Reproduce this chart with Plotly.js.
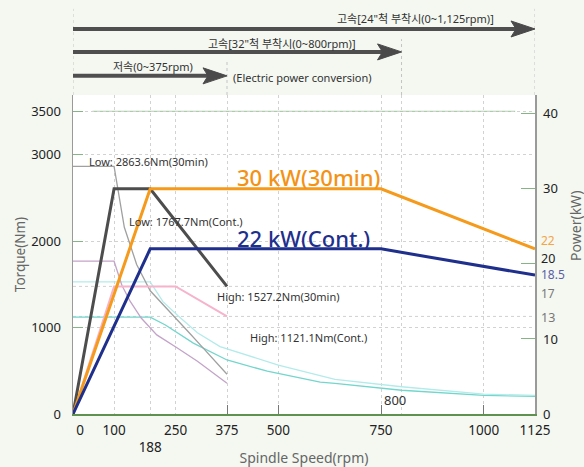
<!DOCTYPE html>
<html>
<head>
<meta charset="utf-8">
<script src="https://cdn.plot.ly/plotly-3.0.1.min.js"></script>
<style>html,body{margin:0;padding:0;background:#f4f8f1;}</style>
</head>
<body>
<div id="chart" style="width:584px;height:467px;"></div>
<script>
// ---- data ----
// Power curves (kW) vs spindle speed (rpm)
const rpmPow30 = [0, 188, 750, 1125];
const pow30 = [0, 30, 30, 22];
const rpmPowCont = [0, 188, 750, 1125];
const powCont = [0, 22, 22, 18.5];
const rpmLowPow30 = [0, 100, 188, 375];
const lowPow30 = [0, 30, 30, 17];
const rpmLowPowCont = [0, 100, 250, 375];
const lowPowCont = [0, 17, 17, 13];
// Torque curves (Nm)
const rpmLowTq30 = [0, 100, 125, 155, 188, 235, 279, 310, 375];
const lowTq30 = [2863.6, 2863.6, 2160, 1730, 1425, 1190, 960, 800, 460];
const rpmLowTqCont = [0, 100, 119, 139, 166, 204, 255, 303, 375];
const lowTqCont = [1767.7, 1767.7, 1490, 1305, 1110, 915, 760, 610, 355];
const rpmHighTq30 = [0, 188, 219, 255, 303, 358, 500, 638, 800, 1000, 1125];
const highTq30 = [1527.2, 1527.2, 1300, 1140, 940, 780, 565, 400, 315, 230, 215];
const rpmHighTqCont = [0, 188, 225, 262, 293, 375, 473, 602, 638, 800, 1000, 1125];
const highTqCont = [1121.1, 1121.1, 1030, 915, 820, 625, 495, 368, 355, 275, 216, 204];
// Axis ticks
const xTickVals = [0, 100, 188, 250, 375, 500, 750, 800, 1000, 1125];
const xTickText = ['\u00a0\u00a0\u00a0\u00a00', '100', '<br>188', '250', '375', '500', '750', '', '1000', '1125'];
const xMajorTicks = [375, 500, 750, 1000];
const yTorqueTicks = [0, 1000, 2000, 3000, 3500];
const yPowerTicks = [0, 10, 20, 30, 40];
const yPowerTickText = ['0', '10', '', '30', '40'];
// Speed ranges (top arrows)
const rangeEnds = [1125, 800, 375];
const rangeLabels = ['고속[24"척 부착시(0~1,125rpm)]', '고속[32"척 부착시(0~800rpm)]', '저속(0~375rpm)'];
// Curve labels
const torqueLabels = ['Low: 2863.6Nm(30min)', 'Low: 1767.7Nm(Cont.)', 'High: 1527.2Nm(30min)', 'High: 1121.1Nm(Cont.)'];
const powerLabels = ['30 kW(30min)', '22 kW(Cont.)'];
const powerSideLabels = ['22', '20', '18.5', '17', '13'];

const FONT = 'Noto Sans, Noto Sans CJK KR, sans-serif';
const X_MAX = 1125;

const traces = [
  {x: rpmHighTqCont, y: highTqCont, mode: 'lines', line: {color: '#72d6cc', width: 1.3}, xaxis: 'x', yaxis: 'y'},
  {x: rpmHighTq30, y: highTq30, mode: 'lines', line: {color: '#b3ebea', width: 1.3}, xaxis: 'x', yaxis: 'y'},
  {x: rpmLowTqCont, y: lowTqCont, mode: 'lines', line: {color: '#c3a3c8', width: 1.3}, xaxis: 'x', yaxis: 'y'},
  {x: rpmLowTq30, y: lowTq30, mode: 'lines', line: {color: '#a0a0a0', width: 1.3}, xaxis: 'x', yaxis: 'y'},
  {x: rpmLowPowCont, y: lowPowCont, mode: 'lines', line: {color: '#f6b3cb', width: 2}, xaxis: 'x', yaxis: 'y2'},
  {x: rpmLowPow30, y: lowPow30, mode: 'lines', line: {color: '#4d4d4d', width: 3}, xaxis: 'x', yaxis: 'y2'},
  {x: rpmPow30, y: pow30, mode: 'lines', line: {color: '#f59a1b', width: 3}, xaxis: 'x', yaxis: 'y2'},
  {x: rpmPowCont, y: powCont, mode: 'lines', line: {color: '#1f2f8c', width: 3}, xaxis: 'x', yaxis: 'y2'},
  {x: [], y: [], xaxis: 'x2', yaxis: 'y', hoverinfo: 'skip'}
];

const shapes = [];
const annotations = [];

// green line at top level (3500 Nm / 40 kW)
shapes.push({type: 'line', xref: 'paper', yref: 'y', x0: 0.042, x1: 0.957, y0: 3500, y1: 3500,
  line: {color: '#a9cfa6', width: 1.3}, layer: 'below'});
// dotted power guide lines
[13, 17].forEach(v => shapes.push({type: 'line', xref: 'paper', yref: 'y2', x0: 0, x1: 1, y0: v, y1: v,
  line: {color: '#d0d0d0', width: 1, dash: 'dot'}, layer: 'below'}));

// top range arrows
const arrowY = [1.207, 1.135, 1.060];
const dotTop = [1.27, 1.175, 1.11];
shapes.push({type: 'line', xref: 'x', yref: 'paper', x0: 0, x1: 0, y0: 1.0, y1: 1.27,
  line: {color: '#c4c4c4', width: 1, dash: 'dot'}});
rangeEnds.forEach((end, i) => {
  shapes.push({type: 'line', xref: 'x', yref: 'paper', x0: end, x1: end, y0: 1.0, y1: dotTop[i],
    line: {color: '#c4c4c4', width: 1, dash: 'dot'}});
  shapes.push({type: 'line', xref: 'x', yref: 'paper', x0: 0, x1: end - 25, y0: arrowY[i], y1: arrowY[i],
    line: {color: '#4f4f4f', width: 4}});
  shapes.push({type: 'path', xref: 'x', yref: 'paper', xsizemode: 'pixel', ysizemode: 'pixel',
    xanchor: end, yanchor: arrowY[i], path: 'M-24,-8 L0,0 L-24,8 L-19,0 Z',
    fillcolor: '#4a4a4a', line: {color: '#4a4a4a', width: 1}});
});

const txt = (text, x, y, xanchor, size, color, extra) => Object.assign({
  text: text, x: x, y: y, xref: 'paper', yref: 'paper', xanchor: xanchor, yanchor: 'middle',
  showarrow: false, borderpad: 0, font: {family: FONT, size: size, color: color}
}, extra || {});

annotations.push(txt(rangeLabels[0], 0.914, 1.241, 'right', 11, '#333'));
annotations.push(txt(rangeLabels[1], 0.615, 1.163, 'right', 11, '#333'));
annotations.push(txt(rangeLabels[2], 0.085, 1.088, 'left', 11, '#333'));
annotations.push(txt('(Electric power conversion)', 0.345, 1.056, 'left', 11, '#333'));

annotations.push(txt(torqueLabels[0], 0.033, 0.790, 'left', 11, '#333'));
annotations.push(txt(torqueLabels[1], 0.118, 0.602, 'left', 11, '#333'));
annotations.push(txt(torqueLabels[2], 0.310, 0.367, 'left', 11, '#333'));
annotations.push(txt(torqueLabels[3], 0.382, 0.241, 'left', 11, '#333'));

annotations.push(txt(powerLabels[0], 0.353, 0.743, 'left', 22, '#f39214', {font: {family: FONT, size: 22, color: '#f39214', weight: 500}}));
annotations.push(txt(powerLabels[1], 0.353, 0.552, 'left', 22, '#1f2f8c', {font: {family: FONT, size: 22, color: '#1f2f8c', weight: 500}}));

// side labels on the power axis (pixel y ≈ 240, 258, 275, 293, 318)
annotations.push(txt(powerSideLabels[0], 1.011, 0.545, 'left', 12, '#f5a446'));
annotations.push(txt(powerSideLabels[1], 1.011, 0.489, 'left', 12.5, '#222'));
annotations.push(txt(powerSideLabels[2], 1.011, 0.436, 'left', 12, '#5a60a8'));
annotations.push(txt(powerSideLabels[3], 1.011, 0.379, 'left', 12, '#777'));
annotations.push(txt(powerSideLabels[4], 1.011, 0.301, 'left', 12.5, '#777'));

annotations.push(txt('800', 0.697, 0.044, 'center', 13, '#333'));
annotations.push(txt('Power(kW)', 1.089, 0.59, 'center', 14, '#666', {textangle: -90}));

const layout = {
  width: 584, height: 467,
  margin: {l: 73, r: 49, t: 95, b: 53},
  paper_bgcolor: '#f4f8f1',
  plot_bgcolor: '#ffffff',
  showlegend: false,
  font: {family: FONT, size: 13, color: '#222'},
  xaxis: {
    range: [0, X_MAX], tickvals: xTickVals, ticktext: xTickText, ticks: '',
    showgrid: true, gridcolor: '#d2d2d2', griddash: 'dot', gridwidth: 1,
    showline: true, linecolor: '#5f9150', linewidth: 1.5, zeroline: false,
    ticklabelstandoff: 3,
    tickfont: {family: FONT, size: 13.5, color: '#222'},
    title: {text: 'Spindle Speed(rpm)', font: {family: FONT, size: 14, color: '#666'}, standoff: 6}
  },
  xaxis2: {
    range: [0, X_MAX], overlaying: 'x', anchor: 'y', side: 'bottom', tickvals: xMajorTicks,
    ticks: 'inside', ticklen: 9, tickcolor: '#777', tickwidth: 1, showticklabels: false,
    showgrid: false, showline: false, zeroline: false
  },
  yaxis: {
    range: [0, 3690], tickvals: yTorqueTicks, ticks: 'inside', ticklen: 10, tickcolor: '#86b486',
    showgrid: true, gridcolor: '#d2d2d2', griddash: 'dot', showline: true, linecolor: '#9a9a9a',
    linewidth: 1.5, zeroline: false, ticklabelstandoff: 8,
    tickfont: {family: FONT, size: 13, color: '#222'},
    title: {text: 'Torque(Nm)', font: {family: FONT, size: 13.5, color: '#666'}, standoff: 2}
  },
  yaxis2: {
    range: [0, 42.5], overlaying: 'y', side: 'right', anchor: 'x', tickvals: yPowerTicks,
    ticktext: yPowerTickText,
    ticks: 'inside', ticklen: 14, tickcolor: '#86b486', showgrid: false, showline: true,
    linecolor: '#9a9a9a', linewidth: 1.5, zeroline: false, ticklabelstandoff: 4,
    tickfont: {family: FONT, size: 13, color: '#222'}
  },
  shapes: shapes,
  annotations: annotations
};

Plotly.newPlot('chart', traces, layout, {staticPlot: true, displayModeBar: false});
</script>
</body>
</html>
